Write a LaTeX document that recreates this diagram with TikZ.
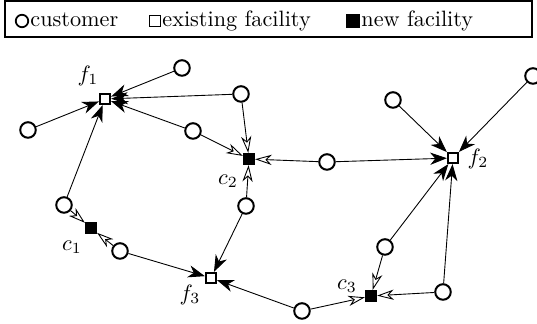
\documentclass[tikz,border=0pt]{standalone}
\usetikzlibrary{arrows.meta}
\begin{document}
\begin{tikzpicture}[x=0.45pt,y=-0.45pt,
 cust/.style={circle,draw,line width=0.9pt,minimum size=7pt,inner sep=0pt,fill=white},
 exist/.style={rectangle,draw,line width=0.9pt,minimum size=4.6pt,inner sep=0pt,fill=white},
 newf/.style={rectangle,draw,fill=black,line width=0.9pt,minimum size=4.6pt,inner sep=0pt},
 lcust/.style={circle,draw,line width=0.8pt,minimum size=5.6pt,inner sep=0pt},
 lexist/.style={rectangle,draw,line width=0.7pt,minimum size=5pt,inner sep=0pt},
 lnew/.style={rectangle,draw,fill=black,line width=0.7pt,minimum size=5.4pt,inner sep=0pt},
 toexist/.style={-{Stealth[length=7.5pt,width=5.5pt,inset=2.3pt]},line width=0.4pt},
 tonew/.style={-{Stealth[open,length=7.5pt,width=4.6pt,inset=2.3pt]},line width=0.4pt},
 lab/.style={inner sep=0pt},
 ltext/.style={inner sep=0pt,anchor=base west}]
\useasboundingbox (0,0) rectangle (537,324);
% legend
\node[draw,line width=0.6pt,minimum width=527*0.45pt,minimum height=36*0.45pt,inner sep=0pt] (legend) at (268.5,19) {};
\node[lcust] (lc) at (22,21) {};
\node[ltext] (lct) at (30,27) {customer};
\node[lexist] (le) at (155,21) {};
\node[ltext] (let) at (162,27) {existing facility};
\node[lnew] (ln) at (353,21) {};
\node[ltext] (lnt) at (361,27) {new facility};
% facilities
\node[exist] (f1) at (105,99) {};
\node[exist] (f2) at (453,158) {};
\node[exist] (f3) at (211,278) {};
\node[newf] (c1) at (91,228) {};
\node[newf] (c2) at (249,159) {};
\node[newf] (c3) at (371,296) {};
\node[lab] at (88,76) {$f_1$};
\node[lab] at (478,159) {$f_2$};
\node[lab] at (190,295) {$f_3$};
\node[lab] at (72,247) {$c_1$};
\node[lab] at (228,181) {$c_2$};
\node[lab] at (347,286) {$c_3$};
% customers
\node[cust] (u1) at (182,68) {};
\node[cust] (u2) at (241,94) {};
\node[cust] (u3) at (193,131) {};
\node[cust] (u4) at (28,130) {};
\node[cust] (u5) at (64,205) {};
\node[cust] (u6) at (120,251) {};
\node[cust] (u7) at (246,206) {};
\node[cust] (u8) at (327,162) {};
\node[cust] (u9) at (393,100) {};
\node[cust] (u10) at (533,76) {};
\node[cust] (u11) at (385,247) {};
\node[cust] (u12) at (443,292) {};
\node[cust] (u13) at (302,311) {};
% arrows to existing facilities
\draw[toexist] (u1) -- (f1);
\draw[toexist] (u2) -- (f1);
\draw[toexist] (u3) -- (f1);
\draw[toexist] (u4) -- (f1);
\draw[toexist] (u5) -- (f1);
\draw[toexist] (u6) -- (f3);
\draw[toexist] (u7) -- (f3);
\draw[toexist] (u13) -- (f3);
\draw[toexist] (u8) -- (f2);
\draw[toexist] (u9) -- (f2);
\draw[toexist] (u10) -- (f2);
\draw[toexist] (u11) -- (f2);
\draw[toexist] (u12) -- (f2);
% arrows to new facilities
\draw[tonew] (u2) -- (c2);
\draw[tonew] (u3) -- (c2);
\draw[tonew] (u7) -- (c2);
\draw[tonew] (u8) -- (c2);
\draw[tonew] (u5) -- (c1);
\draw[tonew] (u6) -- (c1);
\draw[tonew] (u11) -- (c3);
\draw[tonew] (u12) -- (c3);
\draw[tonew] (u13) -- (c3);
\end{tikzpicture}
\end{document}
